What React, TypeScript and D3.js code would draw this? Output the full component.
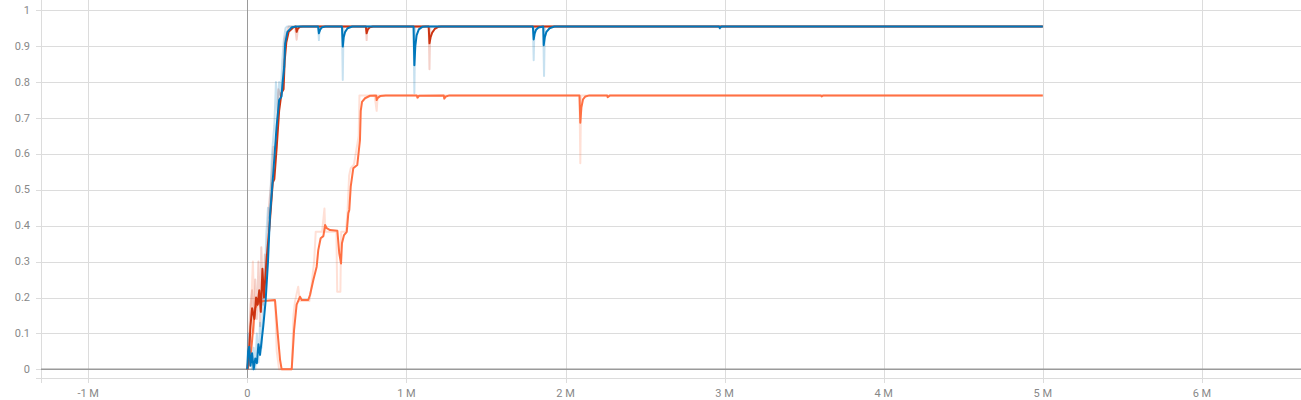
import React, { useEffect, useRef } from 'react';
import * as d3 from 'd3';

// [step in millions, value]
type Pt = [number, number];

const xTicks = [-1, 0, 1, 2, 3, 4, 5, 6];
const yTicks = [0, 0.1, 0.2, 0.3, 0.4, 0.5, 0.6, 0.7, 0.8, 0.9, 1];

// orange run
const orangeRaw: Pt[] = [
  [0, 0], [0.01, 0.05], [0.025, 0.18], [0.035, 0.3], [0.045, 0.15], [0.06, 0.19], [0.1, 0.19],
  [0.175, 0.19], [0.185, 0.05], [0.2, 0], [0.28, 0], [0.29, 0.15], [0.3, 0.19], [0.32, 0.23],
  [0.33, 0.19], [0.39, 0.19], [0.4, 0.22], [0.42, 0.3], [0.43, 0.383], [0.47, 0.383],
  [0.485, 0.448], [0.49, 0.383], [0.56, 0.383], [0.565, 0.216], [0.585, 0.216], [0.59, 0.383],
  [0.62, 0.383], [0.63, 0.44], [0.64, 0.54], [0.65, 0.56], [0.67, 0.57], [0.7, 0.65],
  [0.705, 0.763], [0.8, 0.763], [0.813, 0.72], [0.82, 0.763], [1.065, 0.763], [1.07, 0.755],
  [1.075, 0.763], [2.088, 0.763], [2.093, 0.574], [2.098, 0.763], [5, 0.763],
];
const orangeSmooth: Pt[] = [
  [0, 0], [0.017, 0.02], [0.03, 0.08], [0.048, 0.17], [0.069, 0.185], [0.099, 0.19],
  [0.174, 0.193], [0.191, 0.1], [0.206, 0.026], [0.216, 0], [0.279, 0], [0.294, 0.11],
  [0.31, 0.18], [0.331, 0.202], [0.342, 0.193], [0.383, 0.193], [0.394, 0.207], [0.415, 0.249],
  [0.436, 0.286], [0.446, 0.332], [0.461, 0.365], [0.478, 0.371], [0.489, 0.402], [0.499, 0.393],
  [0.52, 0.388], [0.566, 0.386], [0.578, 0.323], [0.589, 0.295], [0.595, 0.351], [0.608, 0.374],
  [0.625, 0.383], [0.635, 0.435], [0.641, 0.444], [0.65, 0.509], [0.666, 0.56], [0.691, 0.569],
  [0.708, 0.638], [0.713, 0.72], [0.721, 0.745], [0.74, 0.755], [0.771, 0.762], [0.81, 0.763],
  [0.813, 0.75], [0.82, 0.756], [0.835, 0.761], [0.87, 0.763], [1.065, 0.763], [1.07, 0.757],
  [1.08, 0.762], [1.235, 0.763], [1.238, 0.754], [1.248, 0.76], [1.27, 0.763], [2.088, 0.763],
  [2.093, 0.687], [2.1, 0.73], [2.11, 0.752], [2.125, 0.76], [2.15, 0.763], [2.262, 0.763],
  [2.265, 0.758], [2.28, 0.763], [3.605, 0.763], [3.61, 0.76], [3.62, 0.763], [5, 0.763],
];

// red run
const redRaw: Pt[] = [
  [0, 0], [0.01, 0.08], [0.02, 0.18], [0.03, 0.22], [0.04, 0.1], [0.05, 0.25], [0.06, 0.14],
  [0.07, 0.3], [0.08, 0.12], [0.088, 0.34], [0.1, 0.18], [0.11, 0.32], [0.12, 0.26],
  [0.135, 0.45], [0.15, 0.52], [0.165, 0.62], [0.18, 0.6], [0.195, 0.78], [0.21, 0.76],
  [0.225, 0.8], [0.235, 0.92], [0.25, 0.94], [0.26, 0.955], [0.3, 0.955], [0.31, 0.918],
  [0.32, 0.955], [0.745, 0.955], [0.75, 0.917], [0.755, 0.955], [1.14, 0.955], [1.145, 0.836],
  [1.15, 0.955], [5, 0.955],
];
const redSmooth: Pt[] = [
  [0, 0], [0.01, 0.04], [0.02, 0.12], [0.03, 0.17], [0.045, 0.14], [0.055, 0.2], [0.065, 0.18],
  [0.075, 0.22], [0.085, 0.16], [0.095, 0.28], [0.105, 0.2], [0.12, 0.3], [0.14, 0.4],
  [0.16, 0.52], [0.17, 0.53], [0.185, 0.62], [0.2, 0.72], [0.215, 0.77], [0.228, 0.78],
  [0.235, 0.86], [0.245, 0.91], [0.26, 0.94], [0.29, 0.953], [0.305, 0.955], [0.31, 0.94],
  [0.316, 0.948], [0.33, 0.954], [0.35, 0.955], [0.745, 0.955], [0.75, 0.936], [0.757, 0.946],
  [0.77, 0.953], [0.79, 0.955], [1.14, 0.955], [1.145, 0.908], [1.152, 0.925], [1.162, 0.938],
  [1.178, 0.948], [1.2, 0.954], [1.22, 0.955], [5, 0.955],
];

// blue run
const blueRaw: Pt[] = [
  [0, 0], [0.005, 0.1], [0.012, 0.02], [0.02, 0.09], [0.03, 0], [0.04, 0.06], [0.05, 0],
  [0.06, 0.1], [0.07, 0.02], [0.08, 0.13], [0.09, 0.06], [0.1, 0.2], [0.11, 0.25], [0.12, 0.38],
  [0.13, 0.45], [0.14, 0.42], [0.155, 0.6], [0.17, 0.68], [0.18, 0.8], [0.19, 0.72], [0.2, 0.8],
  [0.21, 0.76], [0.22, 0.86], [0.23, 0.92], [0.24, 0.95], [0.25, 0.955], [0.445, 0.955],
  [0.45, 0.917], [0.455, 0.955], [0.595, 0.955], [0.6, 0.806], [0.605, 0.955], [1.045, 0.955],
  [1.05, 0.769], [1.055, 0.955], [1.795, 0.955], [1.8, 0.861], [1.805, 0.955], [1.86, 0.955],
  [1.865, 0.817], [1.87, 0.955], [2.965, 0.955], [2.97, 0.948], [2.975, 0.955], [5, 0.955],
];
const blueSmooth: Pt[] = [
  [0, 0], [0.005, 0.05], [0.012, 0.063], [0.02, 0.01], [0.03, 0.045], [0.04, 0], [0.05, 0.03],
  [0.06, 0.017], [0.07, 0.07], [0.08, 0.04], [0.1, 0.119], [0.115, 0.19], [0.13, 0.3],
  [0.142, 0.425], [0.163, 0.546], [0.184, 0.676], [0.2, 0.75], [0.215, 0.76], [0.222, 0.8],
  [0.232, 0.843], [0.238, 0.908], [0.252, 0.94], [0.28, 0.953], [0.31, 0.955], [0.445, 0.955],
  [0.45, 0.936], [0.458, 0.946], [0.47, 0.953], [0.49, 0.955], [0.595, 0.955], [0.6, 0.899],
  [0.606, 0.925], [0.615, 0.94], [0.63, 0.95], [0.66, 0.955], [1.045, 0.955], [1.05, 0.847],
  [1.056, 0.9], [1.064, 0.93], [1.078, 0.947], [1.1, 0.954], [1.12, 0.955], [1.795, 0.955],
  [1.8, 0.919], [1.806, 0.935], [1.815, 0.946], [1.83, 0.952], [1.86, 0.955], [1.863, 0.903],
  [1.87, 0.925], [1.88, 0.94], [1.9, 0.95], [1.93, 0.955], [2.965, 0.955], [2.97, 0.951],
  [2.98, 0.955], [5, 0.955],
];

const runs = [
  { color: '#ff7043', raw: orangeRaw, smooth: orangeSmooth },
  { color: '#cc3311', raw: redRaw, smooth: redSmooth },
  { color: '#0077bb', raw: blueRaw, smooth: blueSmooth },
];

const W = 1301, H = 400;

const App = () => {
  const ref = useRef<SVGSVGElement>(null);

  useEffect(() => {
    if (!ref.current) return;
    const svg = d3.select(ref.current);
    svg.selectAll('*').remove();

    const left = 41, right = 1301, top = 0, bottom = 378;
    const x = d3.scaleLinear().domain([-1.2967, 6.6228]).range([left, right]);
    const y = d3.scaleLinear().domain([-0.0242, 1.0287]).range([bottom, top]);

    svg.append('rect').attr('width', W).attr('height', H).attr('fill', '#fff');

    // grid
    const grid = svg.append('g').attr('shape-rendering', 'crispEdges');
    grid.selectAll('line.h').data(yTicks).join('line')
      .attr('class', 'h')
      .attr('x1', left - 5).attr('x2', right)
      .attr('y1', d => Math.round(y(d)) + 0.5).attr('y2', d => Math.round(y(d)) + 0.5)
      .attr('stroke', '#dcdcdc');
    grid.selectAll('line.v').data(xTicks).join('line')
      .attr('class', 'v')
      .attr('x1', d => Math.round(x(d)) + 0.5).attr('x2', d => Math.round(x(d)) + 0.5)
      .attr('y1', top).attr('y2', bottom + 5)
      .attr('stroke', '#dcdcdc');
    // frame
    grid.append('line').attr('x1', left + 0.5).attr('x2', left + 0.5).attr('y1', top).attr('y2', bottom + 5).attr('stroke', '#dcdcdc');
    grid.append('line').attr('x1', left - 5).attr('x2', right).attr('y1', bottom + 0.5).attr('y2', bottom + 0.5).attr('stroke', '#dcdcdc');
    // zero lines
    grid.append('line').attr('x1', Math.round(x(0)) + 0.5).attr('x2', Math.round(x(0)) + 0.5)
      .attr('y1', top).attr('y2', bottom).attr('stroke', '#9a9a9a');
    grid.append('line').attr('x1', left).attr('x2', right)
      .attr('y1', y(0)).attr('y2', y(0)).attr('stroke', '#9a9a9a').attr('stroke-width', 1.5)
      .attr('shape-rendering', 'auto');

    // tick labels
    const labels = svg.append('g')
      .attr('font-family', 'Roboto, sans-serif').attr('font-size', 11).attr('fill', '#888');
    labels.selectAll('text.y').data(yTicks).join('text')
      .attr('class', 'y')
      .attr('x', 30).attr('y', d => y(d))
      .attr('text-anchor', 'end').attr('dominant-baseline', 'central')
      .text(d => d3.format('~g')(d));
    labels.selectAll('text.x').data(xTicks).join('text')
      .attr('class', 'x')
      .attr('x', d => x(d)).attr('y', 397)
      .attr('text-anchor', 'middle')
      .text(d => (d === 0 ? '0' : `${d} M`));

    // series
    const line = d3.line<Pt>().x(d => x(d[0])).y(d => y(d[1]));
    const plot = svg.append('g');
    runs.forEach(r => {
      plot.append('path').attr('d', line(r.raw))
        .attr('fill', 'none').attr('stroke', r.color).attr('stroke-opacity', 0.22)
        .attr('stroke-width', 2).attr('stroke-linejoin', 'round');
    });
    runs.forEach(r => {
      plot.append('path').attr('d', line(r.smooth))
        .attr('fill', 'none').attr('stroke', r.color)
        .attr('stroke-width', 2).attr('stroke-linejoin', 'round');
    });
  }, []);

  return (
    <svg ref={ref} width={W} height={H} style={{ position: 'absolute', left: 0, top: 0 }} />
  );
};

export default App;
